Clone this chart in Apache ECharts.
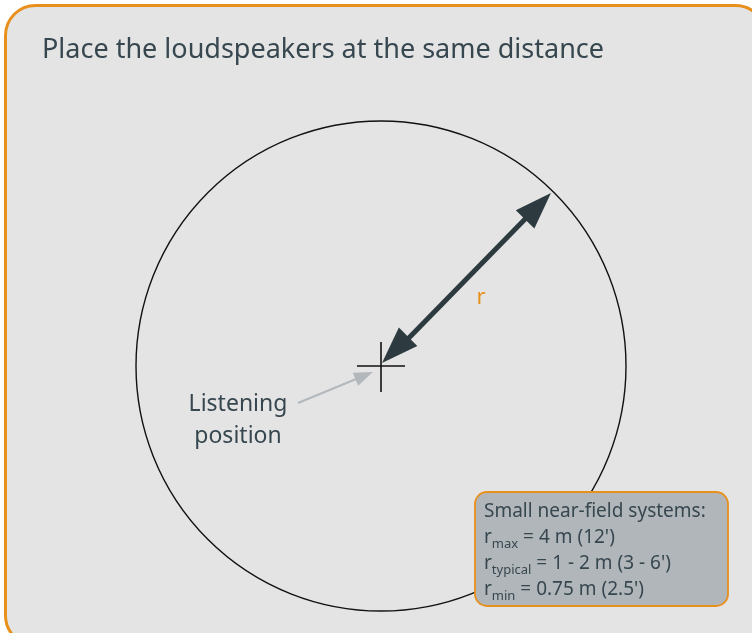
<!DOCTYPE html>
<html lang="en" style="height: 100%">
<head>
  <meta charset="utf-8">
  <title>Place the loudspeakers at the same distance</title>
  <script src="https://cdn.jsdelivr.net/npm/echarts@6.0.0/dist/echarts.min.js"></script>
</head>
<body style="height: 100%; margin: 0; background: #fff">
  <div id="chart" style="width: 752px; height: 633px"></div>
  <script type="text/javascript">
    // diagram geometry, in the units of the hidden x / y axes
    const titleText = 'Place the loudspeakers at the same distance';
    const listener = [381, 366];
    const speaker = [551, 193];
    const circleRadius = 245;
    const radiusLabel = ['r', 481, 298];
    const pointerFrom = [298, 403];
    const pointerTo = [373, 372];
    const listenerLabel = ['Listening', 'position'];
    const listenerLabelPos = [238, 420];
    const noteLines = [
      'Small near-field systems:',
      'r{sub|max} = 4 m (12\')',
      'r{sub|typical} = 1 - 2 m (3 - 6\')',
      'r{sub|min} = 0.75 m (2.5\')'
    ];
    const noteBox = [475, 492, 728, 606];

    const ink = '#37474f';
    const orange = '#e8901c';
    const font = "'Noto Sans', sans-serif";

    function head(tip, from, len, half) {
      const dx = tip[0] - from[0], dy = tip[1] - from[1];
      const d = Math.hypot(dx, dy);
      const ux = dx / d, uy = dy / d;
      const bx = tip[0] - ux * len, by = tip[1] - uy * len;
      return [tip, [bx - uy * half, by + ux * half], [bx + uy * half, by - ux * half]];
    }

    function renderItem(params, api) {
      const c = api.coord(listener);
      const s = api.coord(speaker);
      const rr = api.size([circleRadius, 0])[0];
      const pf = api.coord(pointerFrom);
      const pt = api.coord(pointerTo);
      const lp = api.coord(listenerLabelPos);
      const rl = api.coord([radiusLabel[1], radiusLabel[2]]);
      const b0 = api.coord([noteBox[0], noteBox[1]]);
      const b1 = api.coord([noteBox[2], noteBox[3]]);
      const arm = 24;
      return {
        type: 'group',
        children: [
          { type: 'circle', shape: { cx: c[0], cy: c[1], r: rr },
            style: { fill: 'none', stroke: '#111', lineWidth: 1.4 } },
          { type: 'line', shape: { x1: c[0] - arm, y1: c[1], x2: c[0] + arm, y2: c[1] },
            style: { stroke: '#111', lineWidth: 1.6 } },
          { type: 'line', shape: { x1: c[0], y1: c[1] - arm, x2: c[0], y2: c[1] + arm + 2 },
            style: { stroke: '#111', lineWidth: 1.6 } },
          { type: 'line', shape: { x1: c[0] + 20, y1: c[1] - 20, x2: s[0] - 20, y2: s[1] + 20 },
            style: { stroke: '#2d3a40', lineWidth: 5 } },
          { type: 'polygon', shape: { points: head(s, c, 37, 13) }, style: { fill: '#2d3a40' } },
          { type: 'polygon', shape: { points: head([c[0] + 1, c[1] - 3], s, 37, 13) }, style: { fill: '#2d3a40' } },
          { type: 'line', shape: { x1: pf[0], y1: pf[1], x2: pt[0] - 12, y2: pt[1] + 5 },
            style: { stroke: '#b3b8bc', lineWidth: 2 } },
          { type: 'polygon', shape: { points: head(pt, pf, 19, 7) }, style: { fill: '#b3b8bc' } },
          { type: 'text', x: rl[0], y: rl[1],
            style: { text: radiusLabel[0], fill: orange, fontSize: 22, fontFamily: font,
              align: 'center', verticalAlign: 'middle' } },
          { type: 'text', x: lp[0], y: lp[1],
            style: { text: listenerLabel.join('\n'), fill: ink, fontSize: 23, fontFamily: font,
              lineHeight: 32, align: 'center', verticalAlign: 'middle' } },
          { type: 'rect', shape: { x: b0[0], y: b0[1], width: b1[0] - b0[0], height: b1[1] - b0[1], r: 12 },
            style: { fill: '#b1b6bb', stroke: orange, lineWidth: 1.8 } },
          { type: 'text', x: b0[0] + 9, y: b0[1] + 7,
            style: { text: noteLines.join('\n'), fill: ink, fontSize: 19, fontFamily: font,
              lineHeight: 26, align: 'left', verticalAlign: 'top',
              rich: { sub: { fontSize: 13, fontFamily: font, fill: ink, verticalAlign: 'bottom', lineHeight: 26 } } } }
        ]
      };
    }

    const chart = echarts.init(document.getElementById('chart'));
    chart.setOption({
      backgroundColor: '#fff',
      animation: false,
      graphic: [{
        type: 'rect', z: -10, left: 4, top: 4,
        shape: { width: 760, height: 640, r: 30 },
        style: { fill: '#e4e4e4', stroke: orange, lineWidth: 3 }
      }],
      title: {
        text: titleText, left: 37, top: 32,
        textStyle: { color: ink, fontSize: 27, fontWeight: 'normal', fontFamily: font }
      },
      grid: { left: 0, right: 0, top: 0, bottom: 0 },
      xAxis: { type: 'value', min: 0, max: 752, show: false },
      yAxis: { type: 'value', min: 0, max: 633, inverse: true, show: false },
      series: [{
        type: 'custom',
        renderItem: renderItem,
        data: [[0, 0]],
        silent: true
      }]
    });
  </script>
</body>
</html>
